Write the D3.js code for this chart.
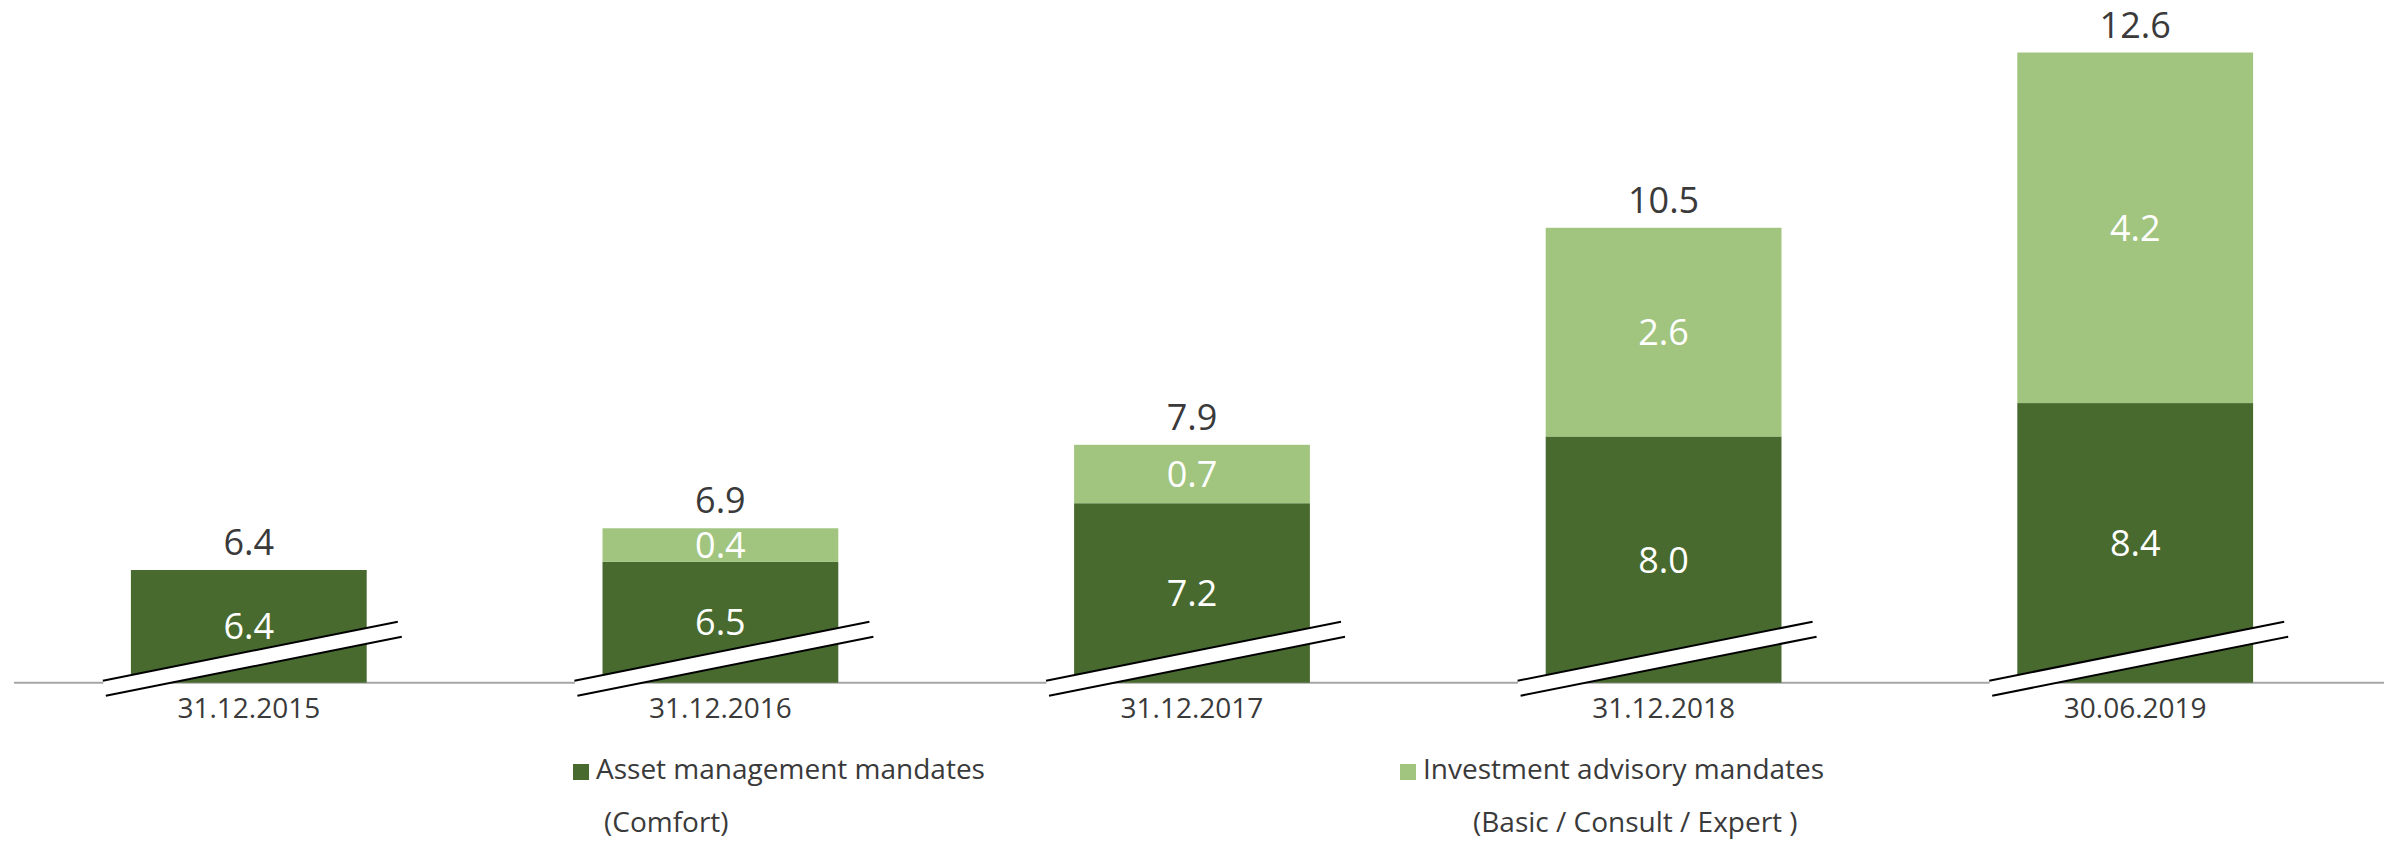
<!DOCTYPE html>
<html>
<head>
<meta charset="utf-8">
<script src="https://cdn.jsdelivr.net/npm/d3@7"></script>
<style>
  html, body { margin: 0; padding: 0; background: #ffffff; }
  svg { display: block; }
  text { font-family: "Open Sans", "Noto Sans", sans-serif; }
</style>
</head>
<body>
<svg id="chart" width="2384" height="845"></svg>
<script>
// ---- data ----
const categories = ["31.12.2015", "31.12.2016", "31.12.2017", "31.12.2018", "30.06.2019"];
const assetMandates = [6.4, 6.5, 7.2, 8.0, 8.4];
const advisoryMandates = [null, 0.4, 0.7, 2.6, 4.2];
const totals = [6.4, 6.9, 7.9, 10.5, 12.6];
const seriesNames = ["Asset management mandates", "Investment advisory mandates"];
const seriesSubNames = ["(Comfort)", "(Basic / Consult / Expert )"];
const axisBreakValue = 5.05;

// ---- style ----
const W = 2384, H = 845;
const darkGreen = "#486a2e";
const lightGreen = "#a1c57f";
const textColor = "#3a3a3a";

const svg = d3.select("#chart");

const x = d3.scaleBand()
  .domain(categories)
  .range([13, 2371])
  .paddingInner(0.5)
  .paddingOuter(0.25);

const y = d3.scaleLinear()
  .domain([axisBreakValue, 12.6])
  .range([682.7, 52.5]);

const fmt = d3.format(".1f");

const rows = categories.map((c, i) => ({
  cat: c, asset: assetMandates[i], adv: advisoryMandates[i], total: totals[i]
}));

// axis line
svg.append("line")
  .attr("x1", 14).attr("x2", W)
  .attr("y1", y(axisBreakValue)).attr("y2", y(axisBreakValue))
  .attr("stroke", "#a6a6a6").attr("stroke-width", 2);

const g = svg.append("g");

// dark segments
g.selectAll("rect.asset").data(rows).join("rect")
  .attr("class", "asset")
  .attr("x", d => x(d.cat))
  .attr("width", x.bandwidth())
  .attr("y", d => y(d.asset))
  .attr("height", d => y(axisBreakValue) - y(d.asset))
  .attr("fill", darkGreen);

// light segments
g.selectAll("rect.adv").data(rows.filter(d => d.adv != null)).join("rect")
  .attr("class", "adv")
  .attr("x", d => x(d.cat))
  .attr("width", x.bandwidth())
  .attr("y", d => y(d.total))
  .attr("height", d => y(d.asset) - y(d.total))
  .attr("fill", lightGreen);

// axis break marks
const base = y(axisBreakValue);
const breaks = svg.append("g");
rows.forEach(d => {
  const c = x(d.cat) + x.bandwidth() / 2;
  const p1 = [c - 146, base - 2], p2 = [c + 149, base - 61];
  const p3 = [c + 153, base - 46], p4 = [c - 143, base + 13];
  breaks.append("path")
    .attr("d", `M${p1}L${p2}L${p3}L${p4}Z`)
    .attr("fill", "#ffffff");
  breaks.append("line")
    .attr("x1", p1[0]).attr("y1", p1[1]).attr("x2", p2[0]).attr("y2", p2[1])
    .attr("stroke", "#000").attr("stroke-width", 2);
  breaks.append("line")
    .attr("x1", p4[0]).attr("y1", p4[1]).attr("x2", p3[0]).attr("y2", p3[1])
    .attr("stroke", "#000").attr("stroke-width", 2);
});

// inner labels - asset
svg.selectAll("text.assetLbl").data(rows).join("text")
  .attr("class", "assetLbl")
  .attr("x", d => x(d.cat) + x.bandwidth() / 2)
  .attr("y", d => (y(d.asset) + y(axisBreakValue)) / 2)
  .attr("dy", "0.36em")
  .attr("text-anchor", "middle")
  .attr("fill", "#ffffff")
  .attr("font-size", 36)
  .text(d => fmt(d.asset));

// inner labels - advisory
svg.selectAll("text.advLbl").data(rows.filter(d => d.adv != null)).join("text")
  .attr("class", "advLbl")
  .attr("x", d => x(d.cat) + x.bandwidth() / 2)
  .attr("y", d => (y(d.asset) + y(d.total)) / 2)
  .attr("dy", "0.36em")
  .attr("text-anchor", "middle")
  .attr("fill", "#ffffff")
  .attr("font-size", 36)
  .text(d => fmt(d.adv));

// total labels
svg.selectAll("text.totLbl").data(rows).join("text")
  .attr("class", "totLbl")
  .attr("x", d => x(d.cat) + x.bandwidth() / 2)
  .attr("y", d => y(d.total) - 15)
  .attr("text-anchor", "middle")
  .attr("fill", textColor)
  .attr("font-size", 36)
  .text(d => fmt(d.total));

// category labels
svg.selectAll("text.catLbl").data(rows).join("text")
  .attr("class", "catLbl")
  .attr("x", d => x(d.cat) + x.bandwidth() / 2)
  .attr("y", 718)
  .attr("text-anchor", "middle")
  .attr("fill", textColor)
  .attr("font-size", 28)
  .text(d => d.cat);

// legend
const legendX = [573, 1400];
const legendColors = [darkGreen, lightGreen];
const subX = [604, 1473];
seriesNames.forEach((name, i) => {
  svg.append("rect")
    .attr("x", legendX[i]).attr("y", 764)
    .attr("width", 16).attr("height", 16)
    .attr("fill", legendColors[i]);
  svg.append("text")
    .attr("x", legendX[i] + 23).attr("y", 779)
    .attr("fill", textColor)
    .attr("font-size", 28)
    .text(name);
  svg.append("text")
    .attr("x", subX[i]).attr("y", 832)
    .attr("fill", textColor)
    .attr("font-size", 28)
    .text(seriesSubNames[i]);
});
</script>
</body>
</html>
